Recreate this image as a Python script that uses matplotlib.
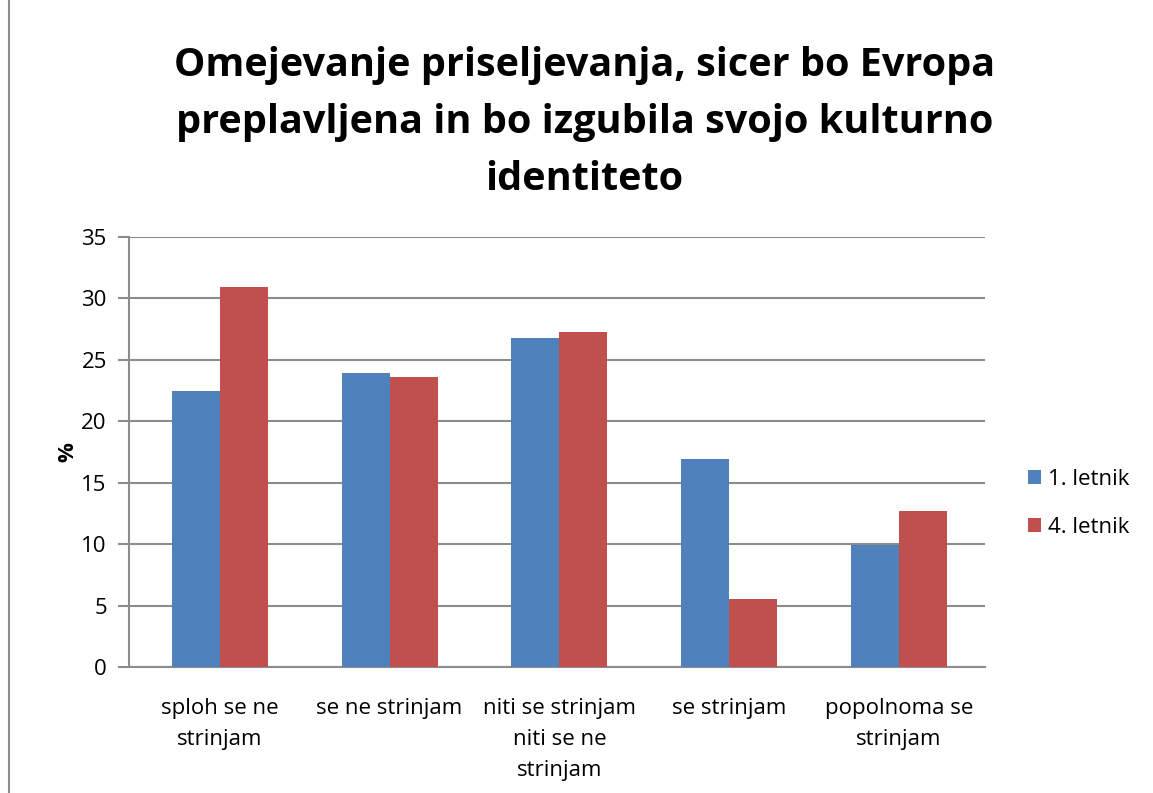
import numpy as np
import matplotlib.pyplot as plt
from matplotlib.lines import Line2D

# --- data ---
categories = ["sploh se ne\nstrinjam", "se ne strinjam", "niti se strinjam\nniti se ne\nstrinjam",
              "se strinjam", "popolnoma se\nstrinjam"]
letnik_1 = [22.5, 23.9, 26.8, 16.9, 9.9]
letnik_4 = [30.9, 23.6, 27.3, 5.5, 12.7]
series_names = ["1. letnik", "4. letnik"]
title = "Omejevanje priseljevanja, sicer bo Evropa\npreplavljena in bo izgubila svojo kulturno\nidentiteto"

plt.rcParams['font.family'] = ['Open Sans', 'DejaVu Sans']

fig = plt.figure(figsize=(11.53, 7.93), dpi=100)
ax = fig.add_axes([0.1119, 0.1589, 0.7424, 0.5422])

x = np.arange(len(categories))
w = 0.283
ax.bar(x - w / 2, letnik_1, w, color='#4F81BD', label=series_names[0], zorder=3)
ax.bar(x + w / 2, letnik_4, w, color='#C0504D', label=series_names[1], zorder=3)

ax.set_xlim(-0.535, 4.507)
ax.set_ylim(0, 35)
ax.set_yticks(range(0, 36, 5))
ax.yaxis.grid(True, color='#8C8C8C', linewidth=1.5, zorder=0)
ax.set_axisbelow(True)

for s in ['top', 'right']:
    ax.spines[s].set_visible(False)
for s in ['left', 'bottom']:
    ax.spines[s].set_color('#8C8C8C')
    ax.spines[s].set_linewidth(1.5)

ax.tick_params(axis='y', length=8, width=1.5, color='#8C8C8C', labelsize=16, pad=8)
ax.tick_params(axis='x', length=0, labelsize=16, pad=22)
ax.set_xticks(x)
ax.set_xticklabels(categories, linespacing=1.65)
ax.set_ylabel("%", fontsize=16, fontweight='bold', labelpad=2)

fig.text(0.507, 0.846, title, ha='center', va='center', fontsize=28.5,
         fontweight='bold', linespacing=1.6)

ax.legend(loc='center left', bbox_to_anchor=(1.027, 0.381), frameon=False,
          fontsize=16, handlelength=0.6, handleheight=0.6, labelspacing=1.2,
          handletextpad=0.3)

fig.add_artist(Line2D([0.0075, 0.0075], [0, 1], transform=fig.transFigure,
                      color='#8C8C8C', linewidth=1.5))

fig.savefig("out.png", dpi=100)
